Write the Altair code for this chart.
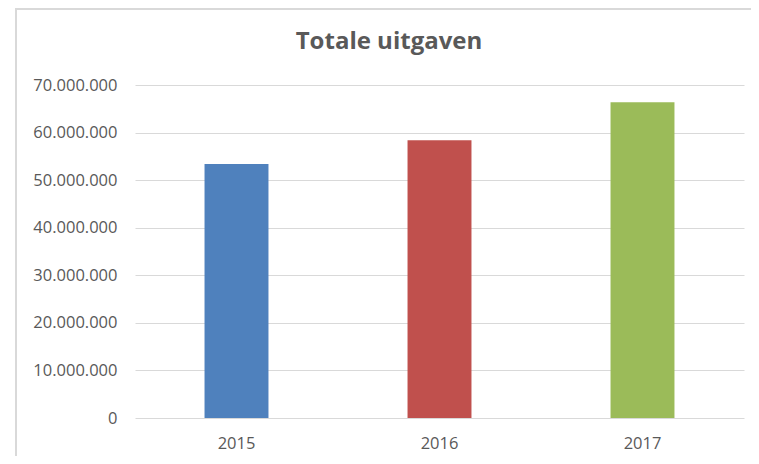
import altair as alt
import pandas as pd

years = ["2015", "2016", "2017"]
values = [53_400_000, 58_400_000, 66_400_000]
bar_colors = ["#4f81bd", "#c0504d", "#9bbb59"]
y_ticks = [0, 10_000_000, 20_000_000, 30_000_000, 40_000_000, 50_000_000, 60_000_000, 70_000_000]
title_text = "Totale uitgaven"

df = pd.DataFrame({"jaar": years, "uitgaven": values})

FONT = "Open Sans"
TXT = "#595959"
GRID = "#d9d9d9"

bars = alt.Chart(df).mark_bar().encode(
    x=alt.X("jaar:N", sort=years,
            scale=alt.Scale(paddingInner=0.685, paddingOuter=0.3425),
            axis=alt.Axis(title=None, labelAngle=0, ticks=False, domain=False,
                          labelFont=FONT, labelFontSize=16.5, labelColor=TXT,
                          labelPadding=17)),
    y=alt.Y("uitgaven:Q",
            scale=alt.Scale(domain=[0, 70_000_000], nice=False),
            axis=alt.Axis(title=None, values=y_ticks, ticks=False, domain=False,
                          grid=True, gridColor=GRID, gridWidth=1,
                          labelFont=FONT, labelFontSize=16.5, labelColor=TXT,
                          labelPadding=18,
                          labelExpr="replace(format(datum.value, ','), /,/g, '.')")),
    color=alt.Color("jaar:N", scale=alt.Scale(domain=years, range=bar_colors), legend=None),
)

frame_data = alt.Data(values=[{"k": 1}])
left_border = alt.Chart(frame_data).mark_rule(color=GRID, strokeWidth=2).encode(
    x=alt.value(-119), x2=alt.value(-119), y=alt.value(-77), y2=alt.value(400)
)
top_border = alt.Chart(frame_data).mark_rule(color=GRID, strokeWidth=2).encode(
    x=alt.value(-120), x2=alt.value(616), y=alt.value(-76), y2=alt.value(-76)
)
title = alt.Chart(alt.Data(values=[{"t": title_text}])).mark_text(
    font=FONT, fontSize=24, fontWeight="bold", color=TXT,
    align="center", baseline="alphabetic"
).encode(
    text="t:N", x=alt.value(254), y=alt.value(-36)
)

chart = alt.layer(bars, left_border, top_border, title).properties(
    width=609,
    height=333,
    padding={"left": 127, "top": 77, "right": 7, "bottom": 38},
    autosize=alt.AutoSizeParams(type="none"),
    background="white",
).configure_view(strokeWidth=0)

chart.save("out.html", embed_options={"renderer": "svg", "actions": False})
